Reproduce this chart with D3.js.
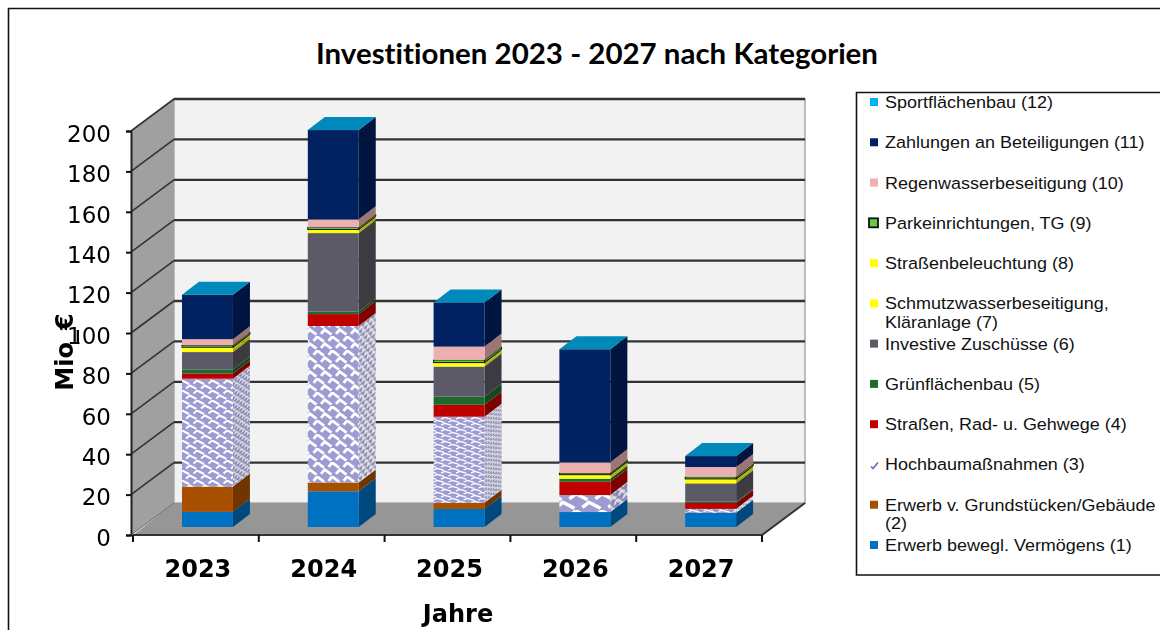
<!DOCTYPE html>
<html>
<head>
<meta charset="utf-8">
<title>Investitionen 2023 - 2027 nach Kategorien</title>
<script src="https://cdn.jsdelivr.net/npm/d3@7"></script>
<style>
    html, body { margin: 0; padding: 0; background: #fff; }
    svg { display: block; }
</style>
</head>
<body>
<svg id="chart" width="1160" height="630"></svg>
<script>
// Werte (Mio. €)
var years = ["2023", "2024", "2025", "2026", "2027"];
var yTicks = [0, 20, 40, 60, 80, 100, 120, 140, 160, 180, 200];

var bewegl = [7.5, 17.7, 8.9, 7.4, 7];
var grundstuecke = [12.5, 4.3, 3.1, 0, 0];
var hochbau = [53.4, 77.5, 42.6, 8.4, 2];
var strassen = [2.6, 5.9, 5.9, 6.6, 2.9];
var gruenflaechen = [2, 1.3, 4, 1.5, 0.6];
var zuschuesse = [8.6, 38.8, 14.9, 0, 9.1];
var schmutzwasser = [1.4, 1, 1, 1, 1.2];
var beleuchtung = [1, 0.8, 1, 1, 1];
var parken = [1, 1, 1.3, 0.8, 1];
var regenwasser = [3, 4, 6.6, 5.3, 4.9];
var beteiligungen = [22, 44.2, 21.9, 56, 5.4];
var sport = [0, 0, 0, 0, 0];

var seriesKeys = ["s1", "s2", "s3", "s4", "s5", "s6", "s7", "s8", "s9", "s10", "s11", "s12"];
var seriesValues = [bewegl, grundstuecke, hochbau, strassen, gruenflaechen, zuschuesse,
    schmutzwasser, beleuchtung, parken, regenwasser, beteiligungen, sport];
var seriesColors = ["#0070c0", "#a94f06", "hatch", "#c00000", "#1e6b2e", "#5b5a66",
    "#ffff00", "#ffff00", "#66cc44", "#ecb0b0", "#002060", "#00b0f0"];

// Legende von oben nach unten, | = Zeilenumbruch
var legendLabels = ["Sportflächenbau (12)", "Zahlungen an Beteiligungen (11)", "Regenwasserbeseitigung (10)",
    "Parkeinrichtungen, TG (9)", "Straßenbeleuchtung (8)", "Schmutzwasserbeseitigung,|Kläranlage (7)",
    "Investive Zuschüsse (6)", "Grünflächenbau (5)", "Straßen, Rad- u. Gehwege (4)", "Hochbaumaßnahmen (3)",
    "Erwerb v. Grundstücken/Gebäude|(2)", "Erwerb bewegl. Vermögens (1)"];
var legendColors = seriesColors.slice().reverse();

// das Muster ist im Original je Balken anders gestreckt
var hatchW = [15, 15, 15, 26, 15];
var hatchH = [10, 14, 6, 17, 5];

var svg = d3.select("#chart");
var depthX = 43, depthY = 32;   // Tiefe der Wand
var barDX = 17, barDY = 13;     // Tiefe der Balken
var barLift = 8;

var x = d3.scaleBand().domain(years).range([133, 762]);
var y = d3.scaleLinear().domain([0, 200]).range([535, 131]);

var rows = years.map(function(year, i) {
    var row = { year: year, index: i };
    seriesKeys.forEach(function(k, j) { row[k] = seriesValues[j][i]; });
    return row;
});
var stacked = d3.stack().keys(seriesKeys)(rows);

var defs = svg.append("defs");
var soft = defs.append("filter").attr("id", "soft");
soft.append("feGaussianBlur").attr("stdDeviation", 0.45);

function hatchTile(id, w, h, transform) {
    var p = defs.append("pattern")
        .attr("id", id)
        .attr("patternUnits", "userSpaceOnUse")
        .attr("width", w)
        .attr("height", h);
    if (transform) p.attr("patternTransform", transform);
    p.append("rect").attr("width", w).attr("height", h).attr("fill", "#9c9cd2");
    var sx = d3.scaleLinear().domain([0, 1]).range([0, w]);
    var sy = d3.scaleLinear().domain([0, 1]).range([0, h]);
    var line = d3.line().x(function(d) { return sx(d[0]); }).y(function(d) { return sy(d[1]); });
    [
        [[-0.1, 0.35], [0.15, 0.05], [0.6, 0.4]],
        [[0.9, 0.35], [1.15, 0.05], [1.6, 0.4]],
        [[0.4, 0.85], [0.65, 0.55], [1.1, 0.9]],
        [[-0.6, 0.85], [-0.35, 0.55], [0.1, 0.9]]
    ].forEach(function(seg) {
        p.append("path")
            .attr("d", line(seg))
            .attr("fill", "none")
            .attr("stroke", "#fff")
            .attr("stroke-width", Math.max(1.3, h * 0.2));
    });
}
years.forEach(function(year, i) {
    hatchTile("hatch" + i, hatchW[i], hatchH[i]);
    hatchTile("hatchSide" + i, hatchW[i] / 3, hatchH[i] * 0.7, "skewY(-37)");
});

function shade(color, f) {
    var c = d3.rgb(color);
    return d3.rgb(c.r * f, c.g * f, c.b * f).formatHex();
}

// Rahmen
svg.append("path")
    .attr("d", "M1160,8.5H8.5V630")
    .attr("fill", "none")
    .attr("stroke", "#111")
    .attr("stroke-width", 1.6);

svg.append("text")
    .attr("x", 597)
    .attr("y", 64)
    .attr("text-anchor", "middle")
    .attr("textLength", 562)
    .attr("lengthAdjust", "spacingAndGlyphs")
    .style("font", "bold 28px Lato, sans-serif")
    .style("font-variant-ligatures", "none")
    .style("fill", "#000")
    .text("Investitionen 2023 - 2027 nach Kategorien");

var plot = svg.append("g").attr("filter", "url(#soft)");

// Wände und Boden
var xL = 131, xR = 762;
var yTop = y(200), yBase = y(0);
plot.append("rect")
    .attr("x", xL + depthX).attr("y", yTop - depthY)
    .attr("width", xR - xL).attr("height", yBase - yTop)
    .attr("fill", "#f2f2f2")
    .attr("stroke", "#bdbdbd")
    .attr("stroke-width", 2);
plot.append("polygon")
    .attr("points", [[xL, yTop], [xL + depthX, yTop - depthY], [xL + depthX, yBase - depthY], [xL, yBase]].join(" "))
    .attr("fill", "#a0a0a0");
plot.append("polygon")
    .attr("points", [[xL + 2, yBase], [xL + depthX, yBase - depthY], [xR + depthX, yBase - depthY], [xR, yBase]].join(" "))
    .attr("fill", "#969696");

// Gitterlinien
plot.selectAll(".grid").data(yTicks.slice(1)).enter().append("line")
    .attr("class", "grid")
    .attr("x1", xL + depthX).attr("x2", xR + depthX)
    .attr("y1", function(d) { return y(d) - depthY; })
    .attr("y2", function(d) { return y(d) - depthY; })
    .attr("stroke", "#333")
    .attr("stroke-width", 2.3);
plot.selectAll(".gridSide").data(yTicks).enter().append("line")
    .attr("class", "gridSide")
    .attr("x1", xL).attr("x2", xL + depthX)
    .attr("y1", function(d) { return y(d); })
    .attr("y2", function(d) { return y(d) - depthY; })
    .attr("stroke", function(d) { return d === 0 ? "#666" : "#333"; })
    .attr("stroke-width", function(d) { return d === 0 ? 1 : 1.6; });

// Balken
var barW = x.bandwidth() * 0.405;
var barOff = 49;
function fillFront(j, i) {
    return seriesColors[j] === "hatch" ? "url(#hatch" + i + ")" : seriesColors[j];
}
function fillSide(j, i) {
    return seriesColors[j] === "hatch" ? "url(#hatchSide" + i + ")" : shade(seriesColors[j], 0.66);
}
years.forEach(function(year, i) {
    var bar = plot.append("g").attr("class", "bar");
    var bx = x(year) + barOff;
    stacked.forEach(function(layer, j) {
        var d = layer[i];
        var y0 = y(d[0]) - barLift, y1 = y(d[1]) - barLift;
        if (y0 - y1 < 0.01) return;
        var isPark = seriesKeys[j] === "s9";
        bar.append("polygon")
            .attr("points", [[bx + barW, y0], [bx + barW + barDX, y0 - barDY], [bx + barW + barDX, y1 - barDY], [bx + barW, y1]].join(" "))
            .attr("fill", fillSide(j, i))
            .attr("stroke", isPark ? "#111" : "none");
        if (seriesColors[j] === "hatch") {
            bar.append("polygon")
                .attr("points", [[bx + barW, y0], [bx + barW + barDX, y0 - barDY], [bx + barW + barDX, y1 - barDY], [bx + barW, y1]].join(" "))
                .attr("fill", "#000")
                .attr("opacity", 0.12);
        }
        bar.append("rect")
            .attr("x", bx).attr("y", y1)
            .attr("width", barW).attr("height", y0 - y1)
            .attr("fill", fillFront(j, i))
            .attr("stroke", isPark ? "#111" : "none");
    });
    // Deckfläche in der Farbe der obersten Reihe
    var top = y(stacked[stacked.length - 1][i][1]) - barLift;
    bar.append("polygon")
        .attr("points", [[bx, top], [bx + barDX, top - barDY], [bx + barW + barDX, top - barDY], [bx + barW, top]].join(" "))
        .attr("fill", shade(seriesColors[seriesColors.length - 1], 0.78));
});

// Achsen
var yAxis = d3.axisLeft(y).tickValues(yTicks).tickSize(5).tickPadding(15);
var yG = plot.append("g").attr("transform", "translate(" + xL + ",0)").call(yAxis);
yG.select(".domain").attr("stroke", "#222").attr("stroke-width", 2);
yG.selectAll(".tick line").attr("stroke", "#111").attr("stroke-width", 2);
yG.selectAll(".tick text")
    .attr("dy", "0.45em")
    .style("font", "23px 'DejaVu Sans', sans-serif")
    .style("fill", "#000");

var xAxis = d3.axisBottom(x).tickSize(0).tickPadding(25);
var xG = plot.append("g").attr("transform", "translate(0," + yBase + ")").call(xAxis);
xG.select(".domain").remove();
xG.selectAll(".tick text")
    .attr("dx", 2)
    .style("font", "bold 24px 'DejaVu Sans', sans-serif")
    .style("fill", "#000");

plot.append("path")
    .attr("d", d3.line()([[133, yBase], [xR, yBase], [xR + depthX, yBase - depthY]]))
    .attr("fill", "none")
    .attr("stroke", "#333")
    .attr("stroke-width", 2);
plot.selectAll(".xTick").data(d3.range(years.length + 1)).enter().append("line")
    .attr("class", "xTick")
    .attr("x1", function(d) { return x.range()[0] + d * x.step(); })
    .attr("x2", function(d) { return x.range()[0] + d * x.step(); })
    .attr("y1", yBase)
    .attr("y2", yBase + 7)
    .attr("stroke", "#111")
    .attr("stroke-width", 2);

plot.append("text")
    .attr("x", 458)
    .attr("y", 622)
    .attr("text-anchor", "middle")
    .style("font", "bold 24px 'DejaVu Sans', sans-serif")
    .text("Jahre");
plot.append("text")
    .attr("transform", "translate(73,352) rotate(-90)")
    .attr("text-anchor", "middle")
    .style("font", "bold 24px 'DejaVu Sans', sans-serif")
    .text("Mio_€");

// Legende
svg.append("path")
    .attr("d", "M1160,92.5H856.5V575H1160")
    .attr("fill", "none")
    .attr("stroke", "#111")
    .attr("stroke-width", 1.6);

var ly = d3.scalePoint().domain(legendLabels).range([102, 545]);
var item = svg.selectAll(".legendItem").data(legendLabels).enter().append("g")
    .attr("class", "legendItem")
    .attr("transform", function(d) { return "translate(0," + ly(d) + ")"; });

item.each(function(d, i) {
    var g = d3.select(this);
    var color = legendColors[i];
    if (color === "hatch") {
        g.append("path")
            .attr("d", "M871,2l2,2l5,-6")
            .attr("fill", "none")
            .attr("stroke", "#6a6ab8")
            .attr("stroke-width", 1.6);
    } else if (d.indexOf("Parkeinrichtungen") === 0) {
        g.append("rect").attr("x", 869).attr("y", -4.5).attr("width", 9).attr("height", 9)
            .attr("fill", color).attr("stroke", "#111").attr("stroke-width", 1.8);
    } else {
        g.append("rect").attr("x", 870).attr("y", -4).attr("width", 8).attr("height", 8)
            .attr("fill", color);
    }
    d.split("|").forEach(function(part, k) {
        g.append("text")
            .attr("transform", "translate(885," + (6 + k * 18.5) + ") scale(1.09,1)")
            .style("font", "16.5px 'Liberation Sans', Arial, sans-serif")
            .style("fill", "#111")
            .text(part);
    });
});
</script>
</body>
</html>
